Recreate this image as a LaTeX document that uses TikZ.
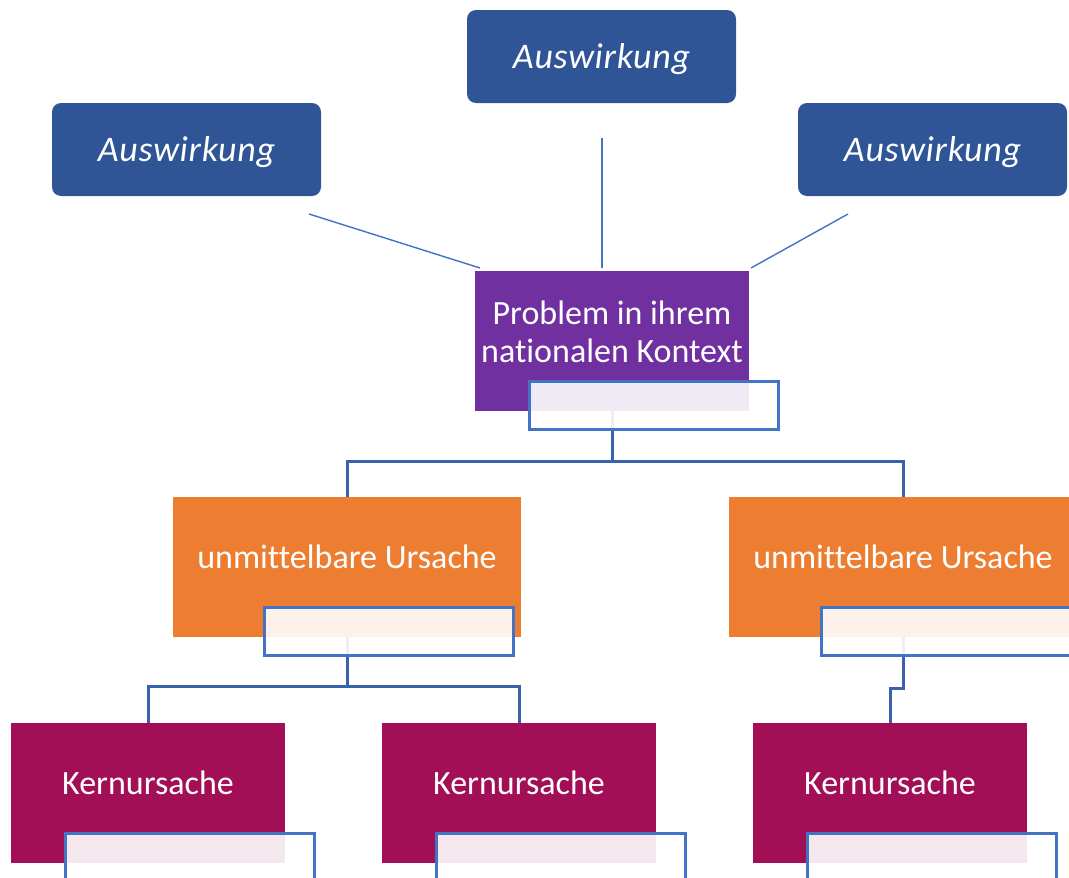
\documentclass[tikz,border=0pt]{standalone}
\usepackage{fontspec}
\setmainfont[Ligatures=NoCommon]{Carlito}
\definecolor{auswblue}{HTML}{2F5597}
\definecolor{probpurple}{HTML}{7030A0}
\definecolor{ursorange}{HTML}{ED7D31}
\definecolor{kernred}{HTML}{A20F57}
\definecolor{linkblue}{HTML}{4472C4}
\definecolor{connblue}{HTML}{3A62AA}
\tikzset{
  boxbase/.style={draw=none, inner sep=0pt, outer sep=0pt},
  auswbox/.style={boxbase, fill=auswblue, rounded corners=9pt, minimum width=269pt, minimum height=93pt},
  auswlbl/.style={text=white, inner sep=0pt, font=\fontsize{36}{40}\selectfont\itshape\addfontfeatures{LetterSpace=2}},
  probbox/.style={boxbase, fill=probpurple, minimum width=274pt, minimum height=140pt},
  ursbox/.style={boxbase, fill=ursorange, minimum width=348pt, minimum height=140pt},
  kernbox/.style={boxbase, fill=kernred, minimum width=274pt, minimum height=140pt},
  overbox/.style={inner sep=0pt, outer sep=0pt, draw=linkblue, line width=3pt, fill=white, fill opacity=0.9,
     minimum width=249pt, minimum height=48pt},
  lbl/.style={text=white, inner sep=0pt, align=center, font=\fontsize{34}{38}\selectfont},
  thinlink/.style={draw=linkblue, line width=1.4pt},
  conn/.style={draw=connblue, line width=3pt},
}
\begin{document}
\begin{tikzpicture}[x=1pt,y=-1pt]
\useasboundingbox (0,0) rectangle (1069,878);
\clip (0,0) rectangle (1069,878);
% Auswirkung boxes
\node[auswbox] (a1) at (601.5,56.5) {};
\node[auswbox] (a2) at (186.5,149.5) {};
\node[auswbox] (a3) at (932.5,149.5) {};
\node[auswlbl] (ta1) at (601.5,59) {Auswirkung};
\node[auswlbl] (ta2) at (186.5,152) {Auswirkung};
\node[auswlbl] (ta3) at (932.5,152) {Auswirkung};
% main boxes
\node[probbox] (prob) at (612,341) {};
\node[ursbox] (u1) at (347,567) {};
\node[ursbox] (u2) at (903,567) {};
\node[kernbox] (k1) at (148,793) {};
\node[kernbox] (k2) at (519,793) {};
\node[kernbox] (k3) at (890,793) {};
% labels
\node[lbl] (tprob) at (612,332) {Problem in ihrem\\nationalen Kontext};
\node[lbl] (tu1) at (347,557) {unmittelbare Ursache};
\node[lbl] (tu2) at (903,557) {unmittelbare Ursache};
\node[lbl] (tk1) at (148,783) {Kernursache};
\node[lbl] (tk2) at (519,783) {Kernursache};
\node[lbl] (tk3) at (890,783) {Kernursache};
% thin links from effects
\coordinate (l1) at (309,214);
\coordinate (l2) at (602,138);
\coordinate (l3) at (848,214);
\coordinate (p1) at (480,268);
\coordinate (p2) at (602,268);
\coordinate (p3) at (751,268);
\draw[thinlink] (l1) -- (p1);
\draw[thinlink] (l2) -- (p2);
\draw[thinlink] (l3) -- (p3);
% connectors
\coordinate (j0) at (612,461);
\coordinate (j1) at (347,686);
\coordinate (j2) at (903,688);
\draw[conn] (prob.south) -- (j0);
\draw[conn] (u1.north) |- (j0) -| (u2.north);
\draw[conn] (u1.south) -- (j1);
\draw[conn] (k1.north) |- (j1) -| (k2.north);
\draw[conn] (u2.south) -- (j2) -| (k3.north);
% overlay boxes
\node[overbox] (o0) at (654,405) {};
\node[overbox] (o1) at (388.5,631) {};
\node[overbox] (o2) at (945.5,631) {};
\node[overbox] (o3) at (189.5,857) {};
\node[overbox] (o4) at (560.5,857) {};
\node[overbox] (o5) at (931.5,857) {};
\end{tikzpicture}
\end{document}
